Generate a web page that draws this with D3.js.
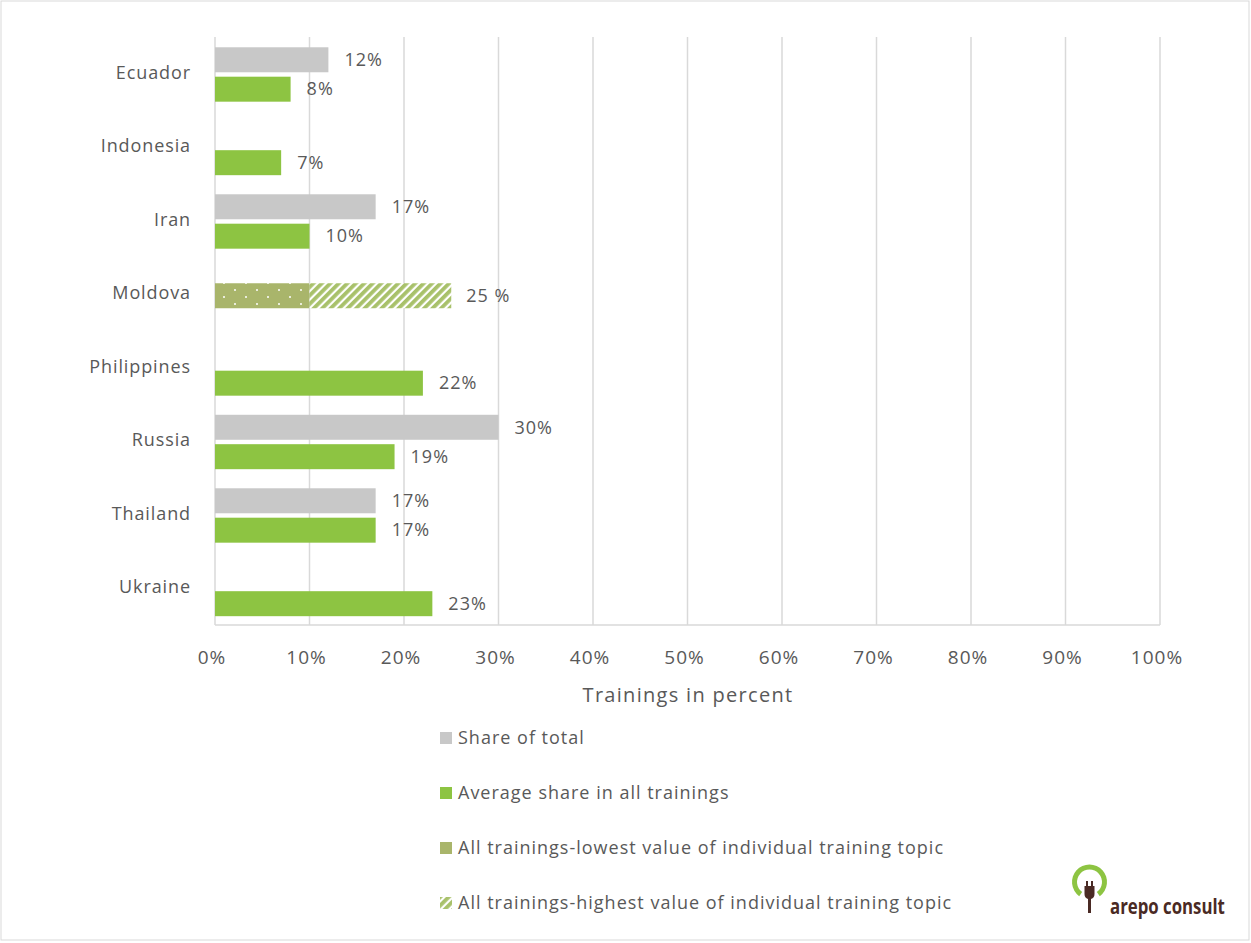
<!DOCTYPE html>
<html>
<head>
<meta charset="utf-8">
<script src="https://cdn.jsdelivr.net/npm/d3@7"></script>
<style>
  html, body { margin: 0; padding: 0; background: #fff; }
  svg { display: block; }
  text { font-family: "Open Sans", "Noto Sans", sans-serif; fill: #595959; }
</style>
</head>
<body>
<svg id="chart" width="1251" height="943"></svg>
<script>
// Training shares per country (percent)
const categories = ["Ecuador", "Indonesia", "Iran", "Moldova", "Philippines", "Russia", "Thailand", "Ukraine"];
const shareOfTotal = [12, null, 17, null, null, 30, 17, null];
const averageShare = [8, 7, 10, null, 22, 19, 17, 23];
const lowestTopic = [null, null, null, 10, null, null, null, null];
const highestTopic = [null, null, null, 25, null, null, null, null];
const xTicks = [0, 10, 20, 30, 40, 50, 60, 70, 80, 90, 100];
const legendLabels = [
  "Share of total",
  "Average share in all trainings",
  "All trainings-lowest value of individual training topic",
  "All trainings-highest value of individual training topic"
];
const axisTitle = "Trainings in percent";

const colors = { share: "#c8c8c8", avg: "#8dc442", low: "#a9b56b", high: "#a8c16a", grid: "#d9d9d9" };

const svg = d3.select("#chart");

// chart-area border
svg.append("rect").attr("x", 1).attr("y", 1).attr("width", 1248).attr("height", 939)
  .attr("fill", "#fff").attr("stroke", colors.grid).attr("stroke-width", 1);

// patterns
const defs = svg.append("defs");
const dots = defs.append("pattern").attr("id", "dots").attr("patternUnits", "userSpaceOnUse")
  .attr("width", 22).attr("height", 14);
dots.append("rect").attr("width", 22).attr("height", 14).attr("fill", colors.low);
dots.append("circle").attr("cx", 4).attr("cy", 3).attr("r", 1).attr("fill", "#fff");
dots.append("circle").attr("cx", 15).attr("cy", 10).attr("r", 1).attr("fill", "#fff");

const hatch = defs.append("pattern").attr("id", "hatch").attr("patternUnits", "userSpaceOnUse")
  .attr("width", 6).attr("height", 6).attr("patternTransform", "rotate(45)");
hatch.append("rect").attr("width", 6).attr("height", 6).attr("fill", "#fff");
hatch.append("rect").attr("width", 3.8).attr("height", 6).attr("fill", colors.high);

const x = d3.scaleLinear().domain([0, 100]).range([215, 1160]);
const y = d3.scaleBand().domain(categories).range([37, 625]);
const bw = y.bandwidth();
const sub = d3.scaleBand().domain(["share", "avg"]).range([bw * 0.14, bw * 0.88]).paddingInner(0.15);
const barH = sub.bandwidth();

// gridlines
const g = svg.append("g");
g.selectAll("line.grid").data(xTicks).join("line")
  .attr("x1", d => x(d)).attr("x2", d => x(d))
  .attr("y1", 37).attr("y2", 625)
  .attr("stroke", colors.grid).attr("stroke-width", 1.5);
g.append("line").attr("x1", x(0)).attr("x2", x(100)).attr("y1", 625).attr("y2", 625)
  .attr("stroke", colors.grid).attr("stroke-width", 1.5);

// x tick labels
svg.append("g").selectAll("text").data(xTicks).join("text")
  .attr("x", d => x(d) - 3).attr("y", 657).attr("dy", "0.35em")
  .attr("text-anchor", "middle").attr("font-size", 19).attr("letter-spacing", "1px")
  .text(d => d + "%");

// axis title
svg.append("text").attr("x", 688).attr("y", 695).attr("dy", "0.35em")
  .attr("text-anchor", "middle").attr("font-size", 20).attr("letter-spacing", "1.3px")
  .text(axisTitle);

// category labels
svg.append("g").selectAll("text").data(categories).join("text")
  .attr("x", 191).attr("y", d => y(d) + bw / 2 - 1.5).attr("dy", "0.35em")
  .attr("text-anchor", "end").attr("font-size", 18).attr("letter-spacing", "0.9px")
  .text(d => d);

const barsG = svg.append("g");
const labelsG = svg.append("g");

function drawSeries(values, key, fill) {
  const rows = categories.map((c, i) => ({ c, v: values[i] })).filter(d => d.v != null);
  barsG.selectAll("rect." + key).data(rows).join("rect")
    .attr("class", key)
    .attr("x", x(0)).attr("y", d => y(d.c) + sub(key))
    .attr("width", d => x(d.v) - x(0)).attr("height", barH)
    .attr("fill", fill);
  labelsG.selectAll("text." + key).data(rows).join("text")
    .attr("class", key)
    .attr("x", d => x(d.v) + 16).attr("y", d => y(d.c) + sub(key) + barH / 2).attr("dy", "0.35em")
    .attr("font-size", 18).attr("letter-spacing", "1px")
    .text(d => d.v + "%");
}
drawSeries(shareOfTotal, "share", colors.share);
drawSeries(averageShare, "avg", colors.avg);

// lowest/highest range bars (stacked, centred in the band)
const rangeRows = categories.map((c, i) => ({ c, lo: lowestTopic[i], hi: highestTopic[i] })).filter(d => d.lo != null);
barsG.selectAll("rect.low").data(rangeRows).join("rect")
  .attr("class", "low")
  .attr("x", x(0)).attr("y", d => y(d.c) + bw / 2 - barH / 2 + 1.5)
  .attr("width", d => x(d.lo) - x(0)).attr("height", barH)
  .attr("fill", "url(#dots)");
barsG.selectAll("rect.high").data(rangeRows).join("rect")
  .attr("class", "high")
  .attr("x", d => x(d.lo)).attr("y", d => y(d.c) + bw / 2 - barH / 2 + 1.5)
  .attr("width", d => x(d.hi) - x(d.lo)).attr("height", barH)
  .attr("fill", "url(#hatch)");
labelsG.selectAll("text.high").data(rangeRows).join("text")
  .attr("class", "high")
  .attr("x", d => x(d.hi) + 15).attr("y", d => y(d.c) + bw / 2 + 1.5).attr("dy", "0.35em")
  .attr("font-size", 18).attr("letter-spacing", "1px")
  .text(d => d.hi + " %");

// legend
const legendFills = [colors.share, colors.avg, colors.low, "url(#hatch)"];
const lg = svg.append("g").selectAll("g").data(legendLabels).join("g")
  .attr("transform", (d, i) => `translate(440, ${738 + i * 55})`);
lg.append("rect").attr("x", 0).attr("y", -6).attr("width", 12).attr("height", 12)
  .attr("fill", (d, i) => legendFills[i]);
lg.append("text").attr("x", 18).attr("y", 0).attr("dy", "0.35em")
  .attr("font-size", 18).attr("letter-spacing", "1px").text(d => d);

// logo: green ring open at the bottom with a plug
const logo = svg.append("g").attr("transform", "translate(1089.5, 882)");
const ring = d3.arc().innerRadius(12.5).outerRadius(17.5)
  .startAngle(-Math.PI * 0.8).endAngle(Math.PI * 0.8);
logo.append("path").attr("d", ring()).attr("fill", "#8dc442");
const brown = "#4a2a24";
logo.append("rect").attr("x", -3.5).attr("y", -1).attr("width", 2).attr("height", 6).attr("fill", brown);
logo.append("rect").attr("x", 1.5).attr("y", -1).attr("width", 2).attr("height", 6).attr("fill", brown);
logo.append("path").attr("d", "M-5,4 L5,4 L5,12 Q5,16 1.5,17 L-1.5,17 Q-5,16 -5,12 Z").attr("fill", brown);
logo.append("rect").attr("x", -1.5).attr("y", 16).attr("width", 3).attr("height", 15).attr("fill", brown);
svg.append("g").attr("transform", "translate(1110, 914) scale(0.8, 1)")
  .append("text").attr("x", 0).attr("y", 0)
  .attr("font-family", "'Liberation Sans Narrow', 'DejaVu Sans Condensed', sans-serif")
  .attr("font-size", 21).attr("font-weight", "bold")
  .style("fill", brown)
  .text("arepo consult");
</script>
</body>
</html>
